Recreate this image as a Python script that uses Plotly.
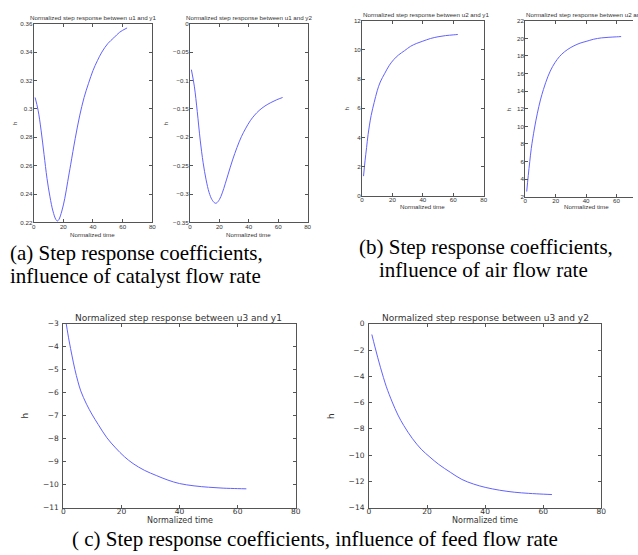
import plotly.graph_objects as go

# step response coefficients (normalized time 1..63)
t_a1 = [1, 3, 5, 7, 9, 11, 13, 15, 16, 17, 19, 21, 23, 25, 28, 31, 34, 37, 40, 43, 46, 50, 54, 58, 63]
h_u1_y1 = [0.308, 0.299, 0.285, 0.268, 0.251, 0.238, 0.228, 0.222, 0.221, 0.222, 0.228, 0.237, 0.249,
           0.261, 0.279, 0.295, 0.308, 0.318, 0.327, 0.334, 0.340, 0.346, 0.350, 0.354, 0.357]

t_a2 = [1, 3, 5, 7, 9, 11, 13, 15, 17, 18, 20, 22, 24, 26, 29, 32, 35, 38, 41, 44, 47, 51, 55, 59, 63]
h_u1_y2 = [-0.081, -0.110, -0.155, -0.205, -0.245, -0.275, -0.297, -0.310, -0.316, -0.316, -0.310, -0.298,
           -0.282, -0.265, -0.240, -0.218, -0.199, -0.184, -0.171, -0.161, -0.153, -0.145, -0.139, -0.134, -0.130]

t_b = [1, 2, 3, 4, 6, 8, 10, 12, 15, 18, 21, 24, 28, 32, 36, 40, 45, 50, 55, 60, 63]
h_u2_y1 = [1.35, 2.4, 3.3, 4.2, 5.5, 6.4, 7.2, 7.8, 8.4, 8.95, 9.35, 9.65, 9.95, 10.25, 10.45, 10.6,
           10.78, 10.9, 10.98, 11.03, 11.06]
h_u2_y2 = [2.6, 4.4, 6.0, 7.5, 9.7, 11.5, 13.0, 14.2, 15.7, 16.8, 17.6, 18.2, 18.75, 19.15, 19.45, 19.65,
           19.9, 20.05, 20.12, 20.17, 20.2]

t_c = [1, 2, 3, 4, 5, 6, 8, 10, 12, 15, 18, 21, 24, 28, 32, 36, 40, 45, 50, 55, 60, 63]
h_u3_y1 = [-3.0, -3.75, -4.4, -5.0, -5.5, -5.92, -6.5, -6.97, -7.38, -7.96, -8.4, -8.78, -9.08, -9.38,
           -9.6, -9.8, -9.95, -10.05, -10.11, -10.15, -10.17, -10.18]
h_u3_y2 = [-0.82, -1.7, -2.55, -3.35, -4.1, -4.8, -5.95, -6.95, -7.75, -8.75, -9.55, -10.15, -10.7,
           -11.3, -11.85, -12.2, -12.45, -12.67, -12.82, -12.91, -12.97, -13.0]

titles = ['Normalized step response between u1 and y1', 'Normalized step response between u1 and y2',
          'Normalized step response between u2 and y1', 'Normalized step response between u2 and y2',
          'Normalized step response between u3 and y1', 'Normalized step response between u3 and y2']

W, H = 638, 555


def px(x):
    return x / W


def py(y):
    return 1 - y / H


# (x, y, box x px, box y px, y range, y dtick, x range, title centre x, xlabel y, h label x)
panels = [
    (t_a1, h_u1_y1, (32, 152), (20, 222), [0.22, 0.36], 0.02, [0, 80], 92, 234, 12),
    (t_a2, h_u1_y2, (190, 309), (20, 222), [-0.35, 0], 0.05, [0, 80], 250, 234, 165),
    (t_b, h_u2_y1, (364, 487), (17, 195), [0, 12], 2, [0, 80], 429, 206, 348),
    (t_b, h_u2_y2, (529, 638), (17, 196), [2, 22], 2, [0, 70.8], 594, 206, 512),
    (t_c, h_u3_y1, (62, 297), (325, 512), [-11, -3], 1, [0, 80], 178, 525.5, 23),
    (t_c, h_u3_y2, (371, 606), (325, 512), [-14, 0], 2, [0, 80], 489, 525.5, 332),
]

fig = go.Figure()
annotations = []

for i, (t, h, bx, by, yr, dy, xr, tx, ly, hx) in enumerate(panels):
    n = '' if i == 0 else str(i + 1)
    big = i >= 4
    cut = i == 3  # right side of this panel is off the picture
    fam = 'DejaVu Sans' if big else 'Liberation Sans'
    tick_fs = 7.5 if big else 6.2
    lab_fs = 9 if big else 6.2
    fig.add_trace(go.Scatter(x=t, y=h, mode='lines', line=dict(color='#6262ff', width=1, shape='spline'),
                             xaxis='x' + n, yaxis='y' + n, showlegend=False))
    common = dict(showline=True, linecolor='#555', linewidth=1, ticks='inside', ticklen=3, tickcolor='#555',
                  showgrid=False, zeroline=False, tickfont=dict(family=fam, size=tick_fs, color='#333'))
    ax = dict(domain=[px(bx[0]), px(bx[1])], range=xr, dtick=20, tick0=0, anchor='y' + n,
              mirror='ticks', ticklabelstandoff=-4 if big else -2, **common)
    ay = dict(domain=[py(by[1]), py(by[0])], range=yr, dtick=dy, anchor='x' + n,
              mirror=False if cut else 'ticks', ticklabelstandoff=2 if big else -1, **common)
    fig.update_layout({'xaxis' + n: ax, 'yaxis' + n: ay})

    annotations.append(dict(text=titles[i], x=px(tx), y=py(by[0] - 6), xref='paper', yref='paper',
                            showarrow=False, xanchor='center', yanchor='middle',
                            font=dict(family=fam, size=lab_fs, color='#333')))
    annotations.append(dict(text='Normalized time', x=px((bx[0] + bx[1]) / 2 if not cut else 591), y=py(ly),
                            xref='paper', yref='paper', showarrow=False, xanchor='center', yanchor='middle',
                            font=dict(family=fam, size=8 if big else lab_fs, color='#333')))
    annotations.append(dict(text='h', x=px(hx), y=py((by[0] + by[1]) / 2), xref='paper', yref='paper',
                            showarrow=False, xanchor='center', yanchor='middle', textangle=-90,
                            font=dict(family=fam, size=lab_fs, color='#333')))

serif = dict(family='Liberation Serif', size=21, color='black')
captions = [
    ('(a) Step response coefficients,', 6, 253, 'left'),
    ('influence of catalyst flow rate', 6, 276, 'left'),
    ('(b) Step response coefficients,', 489, 247, 'center'),
    ('influence of air flow rate', 487, 270, 'center'),
    ('( c) Step response coefficients, influence of feed flow rate', 316, 544, 'center'),
]
for text, x, y, anchor in captions:
    annotations.append(dict(text=text, x=px(x), y=py(y), xref='paper', yref='paper', showarrow=False,
                            xanchor=anchor, yanchor='middle', font=serif))

fig.update_layout(width=W, height=H, margin=dict(l=0, r=0, t=0, b=0),
                  paper_bgcolor='white', plot_bgcolor='white', annotations=annotations)

# page body has a default 8px margin; drop it so the figure sits at the window corner
fig.write_html("out.html", config={'displayModeBar': False},
               post_script="document.body.style.margin='0px';")
